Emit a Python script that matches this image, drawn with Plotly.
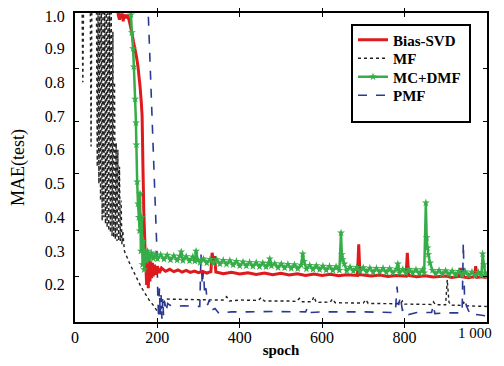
import plotly.graph_objects as go

# ---------------- data ----------------
x_tick_vals = [0, 200, 400, 600, 800, 1000]
x_tick_text = ["0", "200", "400", "600", "800", ""]
x_last_label = "1 000"          # drawn as its own text so it is not clipped at the edge
y_tick_vals = [0.2, 0.3, 0.4, 0.5, 0.6, 0.7, 0.8, 0.9, 0.995]
y_tick_text = ["0.2", "0.3", "0.4", "0.5", "0.6", "0.7", "0.8", "0.9", "1.0"]
y_minor_ticks = [0.224, 0.36, 0.529, 0.683, 0.84]

# (epoch, MAE) pairs
mf_points = [
    (0, 1.05), (17, 1.05), (19, 0.80), (21, 1.05), (37, 1.05), (39, 0.61), (41, 1.05),
    (52, 1.05), (54, 0.55), (56, 1.05), (58, 0.50), (60, 1.05), (62, 0.45), (64, 1.05),
    (66, 0.39), (68, 1.05), (70, 0.40), (72, 1.05), (74, 0.38), (76, 1.05), (78, 0.37),
    (80, 1.05), (82, 0.36), (84, 1.05), (86, 0.355), (88, 1.05), (90, 0.345), (92, 0.95),
    (94, 0.34), (96, 0.80), (98, 0.335), (100, 0.62), (102, 0.33), (104, 0.60), (106, 0.33),
    (108, 0.55), (110, 0.33), (112, 0.45), (114, 0.32), (116, 0.36), (120, 0.30), (127, 0.28),
    (134, 0.26), (140, 0.245), (150, 0.22), (160, 0.195), (170, 0.175), (180, 0.155),
    (190, 0.14), (198, 0.125), (205, 0.115), (212, 0.14), (220, 0.158), (260, 0.157),
    (300, 0.156), (360, 0.155), (368, 0.165), (375, 0.152), (400, 0.155), (445, 0.154),
    (452, 0.162), (460, 0.152), (520, 0.152), (538, 0.151), (545, 0.16), (552, 0.15),
    (575, 0.15), (580, 0.165), (586, 0.148), (620, 0.149), (625, 0.158), (632, 0.147),
    (700, 0.146), (706, 0.156), (712, 0.145), (790, 0.144), (795, 0.152), (800, 0.143),
    (865, 0.142), (870, 0.15), (876, 0.141), (900, 0.141), (904, 0.215), (908, 0.15),
    (912, 0.14), (940, 0.139), (944, 0.148), (950, 0.138), (1000, 0.136)]

pmf_points = [
    (0, 1.1), (175, 1.1), (178, 1.0), (199, 0.30), (201, 0.17), (203, 0.10), (205, 0.19),
    (207, 0.11), (209, 0.17), (211, 0.10), (213, 0.16), (215, 0.11), (218, 0.15), (221, 0.12),
    (225, 0.145), (230, 0.14), (236, 0.138), (242, 0.14), (250, 0.137), (265, 0.138),
    (285, 0.137), (303, 0.136), (306, 0.29), (309, 0.20), (312, 0.24), (315, 0.17),
    (318, 0.19), (322, 0.14), (326, 0.155), (332, 0.125), (340, 0.13), (350, 0.115),
    (365, 0.118), (380, 0.12), (420, 0.12), (480, 0.121), (560, 0.12), (566, 0.135),
    (572, 0.118), (600, 0.12), (700, 0.12), (778, 0.118), (782, 0.195), (786, 0.14),
    (790, 0.165), (795, 0.125), (802, 0.13), (810, 0.112), (830, 0.118), (866, 0.118),
    (870, 0.14), (874, 0.115), (900, 0.117), (940, 0.117), (943, 0.325), (946, 0.16),
    (950, 0.14), (955, 0.125), (962, 0.11), (975, 0.112), (1000, 0.108)]

svd_points = [
    (0, 1.1), (100, 1.1), (105, 1.0), (108, 0.985), (110, 1.0), (115, 1.0), (117, 0.98),
    (119, 1.0), (124, 0.99), (127, 1.0), (131, 0.985), (134, 0.97), (138, 0.947), (142, 0.92),
    (146, 0.896), (150, 0.87), (153, 0.846), (156, 0.81), (158, 0.787), (161, 0.74),
    (163, 0.70), (165, 0.55), (167, 0.42), (170, 0.31), (172, 0.26), (174, 0.20), (176, 0.29),
    (178, 0.19), (180, 0.28), (182, 0.21), (184, 0.27), (186, 0.22), (188, 0.265),
    (190, 0.225), (193, 0.26), (196, 0.23), (200, 0.255), (205, 0.235), (210, 0.25),
    (220, 0.24), (230, 0.246), (240, 0.239), (250, 0.244), (260, 0.238), (270, 0.243),
    (280, 0.237), (290, 0.241), (300, 0.236), (310, 0.24), (320, 0.235), (330, 0.239),
    (333, 0.295), (336, 0.27), (339, 0.285), (342, 0.238), (360, 0.233), (380, 0.237),
    (400, 0.232), (420, 0.236), (440, 0.231), (460, 0.235), (480, 0.23), (500, 0.234),
    (520, 0.229), (540, 0.233), (560, 0.228), (580, 0.232), (600, 0.228), (620, 0.231),
    (640, 0.227), (660, 0.23), (686, 0.228), (689, 0.32), (692, 0.23), (720, 0.226),
    (740, 0.229), (760, 0.225), (780, 0.228), (804, 0.226), (807, 0.295), (810, 0.228),
    (830, 0.224), (850, 0.227), (870, 0.223), (900, 0.226), (915, 0.222), (933, 0.225),
    (936, 0.25), (939, 0.224), (955, 0.221), (970, 0.224), (973, 0.255), (976, 0.222),
    (990, 0.224), (1000, 0.221)]

dmf_points = [
    (0, 1.1), (130, 1.1), (136, 1.0), (138, 0.947), (141, 0.90), (143, 0.846), (146, 0.75),
    (148, 0.68), (149, 0.615), (151, 0.505), (153, 0.44), (155, 0.40), (157, 0.36),
    (158, 0.47), (160, 0.30), (162, 0.40), (164, 0.26), (166, 0.33), (168, 0.245),
    (170, 0.30), (173, 0.27), (176, 0.30), (180, 0.275), (185, 0.295), (190, 0.278),
    (195, 0.291), (200, 0.277), (208, 0.289), (216, 0.276), (224, 0.288), (232, 0.274),
    (240, 0.286), (248, 0.273), (255, 0.285), (258, 0.298), (262, 0.272), (270, 0.284),
    (278, 0.271), (286, 0.283), (291, 0.27), (294, 0.30), (298, 0.274), (304, 0.266),
    (312, 0.277), (320, 0.265), (328, 0.276), (336, 0.264), (344, 0.275), (352, 0.262),
    (360, 0.273), (368, 0.261), (376, 0.272), (384, 0.259), (392, 0.27), (400, 0.256),
    (408, 0.268), (416, 0.256), (424, 0.267), (432, 0.255), (440, 0.266), (448, 0.254),
    (456, 0.265), (464, 0.253), (470, 0.264), (473, 0.277), (477, 0.256), (485, 0.263),
    (493, 0.251), (501, 0.262), (509, 0.25), (517, 0.261), (525, 0.249), (533, 0.26),
    (541, 0.248), (549, 0.259), (553, 0.292), (556, 0.27), (562, 0.247), (570, 0.258),
    (578, 0.246), (586, 0.257), (594, 0.245), (602, 0.256), (610, 0.244), (618, 0.255),
    (626, 0.243), (634, 0.254), (642, 0.243), (646, 0.354), (648, 0.29), (650, 0.275),
    (654, 0.262), (660, 0.242), (668, 0.253), (676, 0.241), (684, 0.252), (692, 0.24),
    (700, 0.251), (708, 0.239), (716, 0.25), (724, 0.238), (732, 0.249), (740, 0.238),
    (748, 0.249), (756, 0.237), (764, 0.248), (772, 0.236), (781, 0.247), (784, 0.262),
    (788, 0.236), (796, 0.246), (804, 0.235), (812, 0.246), (820, 0.235), (828, 0.245),
    (836, 0.234), (844, 0.245), (848, 0.236), (852, 0.443), (854, 0.34), (856, 0.31),
    (858, 0.29), (862, 0.265), (868, 0.243), (876, 0.233), (884, 0.243), (892, 0.232),
    (900, 0.242), (908, 0.231), (916, 0.241), (924, 0.23), (932, 0.24), (940, 0.229),
    (948, 0.239), (956, 0.228), (964, 0.238), (972, 0.227), (980, 0.237), (987, 0.228),
    (990, 0.292), (993, 0.26), (996, 0.236), (1000, 0.227)]


def split(points):
    return [p[0] for p in points], [p[1] for p in points]


mf_epoch, mf_mae = split(mf_points)
pmf_epoch, pmf_mae = split(pmf_points)
svd_epoch, svd_mae = split(svd_points)
dmf_epoch, dmf_mae = split(dmf_points)

# ---------------- figure ----------------
SERIF = "Liberation Serif, Times New Roman, serif"
RED = "#df1a1d"
GREEN = "#35ad48"
NAVY = "#2a3a92"
BLACK = "#222222"

# the page body has an 8 px margin on every side: the figure starts at (8, 8)
# in the window and only 488 x 350 px of it are visible.
OFF = 8
WIN_W, WIN_H = 504, 366
FIG_W, FIG_H = WIN_W - 2 * OFF, WIN_H - 2 * OFF
x_left_px, x_right_px, y_top_px, y_bot_px = 75, 487, 13, 322
pw, ph = x_right_px - x_left_px, y_bot_px - y_top_px


def px_x(p):
    return (p - x_left_px) / pw


def px_y(p):
    return (y_bot_px - p) / ph


fig = go.Figure()
fig.add_trace(go.Scatter(x=mf_epoch, y=mf_mae, name="MF", mode="lines",
                         line=dict(color=BLACK, width=1.4, dash="dot", simplify=False),
                         legend="legend2"))
fig.add_trace(go.Scatter(x=pmf_epoch, y=pmf_mae, name="PMF", mode="lines",
                         line=dict(color=NAVY, width=1.6, dash="dash", simplify=False),
                         legend="legend4"))
fig.add_trace(go.Scatter(x=svd_epoch, y=svd_mae, name="Bias-SVD", mode="lines",
                         line=dict(color=RED, width=3, simplify=False), legend="legend"))
fig.add_trace(go.Scatter(x=dmf_epoch, y=dmf_mae, name="MC+DMF", mode="lines+markers",
                         line=dict(color=GREEN, width=2.5, simplify=False),
                         marker=dict(symbol="star", size=6, color=GREEN), legend="legend3"))
# carrier for the secondary (tick-only) y axis
fig.add_trace(go.Scatter(x=[None], y=[None], yaxis="y2", showlegend=False,
                         hoverinfo="skip"))

legend_font = dict(family=SERIF, size=15, color="black", weight="bold")
legend_rows_px = [40, 58.5, 77, 95.5]


def legend_at(row_px):
    return dict(x=px_x(353), y=px_y(row_px), xanchor="left", yanchor="middle",
                bgcolor="rgba(0,0,0,0)", borderwidth=0, font=legend_font)


fig.update_layout(
    width=FIG_W, height=FIG_H,
    margin=dict(l=x_left_px - OFF, r=OFF + FIG_W - x_right_px, t=y_top_px - OFF,
                b=OFF + FIG_H - y_bot_px),
    paper_bgcolor="white", plot_bgcolor="white",
    font=dict(family=SERIF, color="black", size=16),
    showlegend=True,
    legend=legend_at(legend_rows_px[0]),
    legend2=legend_at(legend_rows_px[1]),
    legend3=legend_at(legend_rows_px[2]),
    legend4=legend_at(legend_rows_px[3]),
    xaxis=dict(range=[0, 1000.5], tickvals=x_tick_vals, ticktext=x_tick_text,
               ticks="inside", ticklen=4, tickwidth=1.2, tickcolor="black",
               showline=True, linecolor="black", linewidth=2, mirror="allticks",
               showgrid=False, zeroline=False, automargin=False,
               ticklabeloverflow="allow",
               tickfont=dict(family=SERIF, size=16),
               title=dict(text="<b>spoch</b>", font=dict(family=SERIF, size=15), standoff=3)),
    yaxis=dict(range=[0.09, 1.005], tickvals=y_tick_vals, ticktext=y_tick_text,
               ticks="", showline=True, linecolor="black", linewidth=2, mirror=True,
               showgrid=False, zeroline=False, ticklabelstandoff=5, automargin=False,
               ticklabeloverflow="allow",
               tickfont=dict(family=SERIF, size=16),
               title=dict(text="MAE(test)", font=dict(family=SERIF, size=18), standoff=17)),
    yaxis2=dict(range=[0.09, 1.005], overlaying="y", side="left", tickvals=y_minor_ticks,
                ticks="inside", ticklen=4, tickwidth=1.2, tickcolor="black",
                showticklabels=False, showline=True, linecolor="black", linewidth=2,
                mirror="allticks", showgrid=False, zeroline=False, automargin=False),
    shapes=[dict(type="rect", xref="paper", yref="paper",
                 x0=px_x(352), x1=px_x(470), y0=px_y(122), y1=px_y(25),
                 line=dict(color="black", width=2), fillcolor="white", layer="above")],
    annotations=[dict(text=x_last_label, x=x_tick_vals[-1], xref="x", y=0, yref="paper",
                      xanchor="right", yanchor="middle", xshift=7, yshift=-11,
                      showarrow=False, font=dict(family=SERIF, size=15, color="black"))],
)

fig.write_html("out.html")
